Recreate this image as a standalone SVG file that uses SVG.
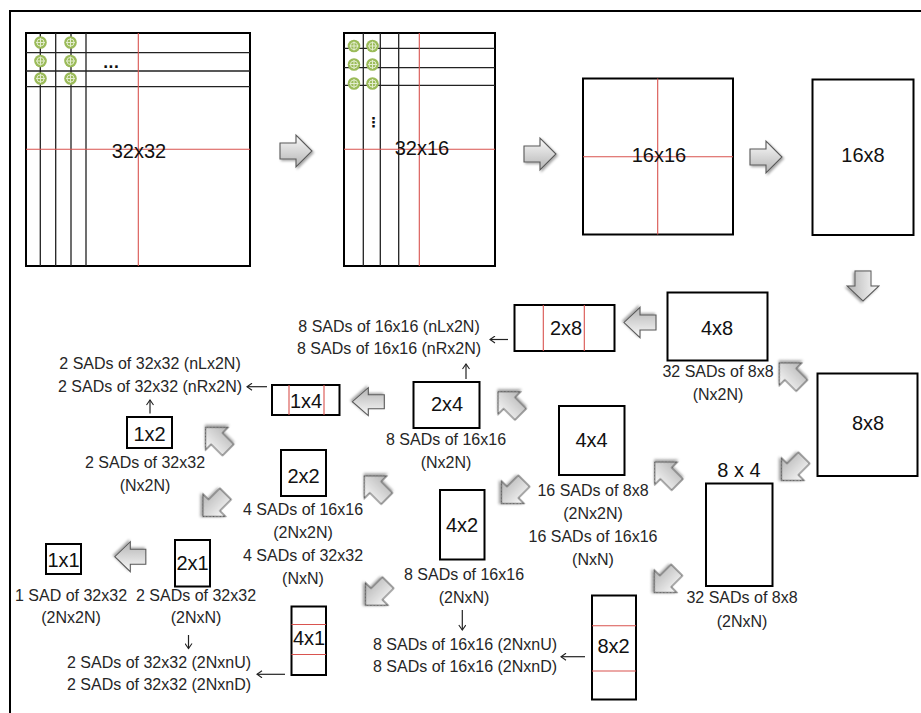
<svg xmlns="http://www.w3.org/2000/svg" xmlns:xlink="http://www.w3.org/1999/xlink" width="921" height="713" viewBox="0 0 921 713">
<style>
.box{fill:#fff;stroke:#000;stroke-width:2}
.grid{stroke:#222;stroke-width:1.3;fill:none}
.red{stroke:#d9534f;stroke-width:1.1;fill:none}
.lbl{font-family:"Liberation Sans",Arial,sans-serif;font-size:20px;fill:#111;text-anchor:middle}
.sad{font-family:"Liberation Sans",Arial,sans-serif;font-size:16px;fill:#262626;text-anchor:middle}
.dots{font-family:"DejaVu Sans","Liberation Sans",sans-serif;font-size:14px;font-weight:bold;fill:#111}
.ba{fill:url(#ag);stroke:#5a5a5a;stroke-width:1.1;filter:url(#sh)}
.thin{stroke:#222;stroke-width:1.2;fill:none;marker-end:url(#ah)}
.gc{fill:#9bbb59}
.gx{stroke:#e3edcf;stroke-width:1;fill:none}
</style>
<defs>
<linearGradient id="ag" x1="0" y1="0" x2="0" y2="1">
<stop offset="0" stop-color="#fafafa"/>
<stop offset="1" stop-color="#b4b4b4"/>
</linearGradient>
<filter id="sh" x="-30%" y="-30%" width="160%" height="160%">
<feDropShadow dx="1.5" dy="1.5" stdDeviation="1" flood-color="#000" flood-opacity="0.35"/>
</filter>
<path id="barrow" d="M-16,-8 H0 V-16 L16,0 L0,16 V8 H-16 Z"/>
<marker id="ah" markerWidth="8" markerHeight="8" refX="6" refY="4" orient="auto" markerUnits="userSpaceOnUse">
<path d="M1,0.5 L6,4 L1,7.5" fill="none" stroke="#222" stroke-width="1.1"/>
</marker>
<g id="gcirc">
<circle r="6.3" class="gc"/>
<circle r="3.6" class="gx"/>
<path d="M-4.5,0 H4.5 M0,-4.5 V4.5" class="gx"/>
</g>
</defs>

<rect x="10" y="11" width="930" height="720" fill="none" stroke="#000" stroke-width="2"/>

<g id="n32x32">
<rect x="26" y="33" width="224" height="233" class="box"/>
<path class="grid" d="M26,52.7 H250 M26,71 H250 M26,86.7 H250 M40.3,33 V266 M55.7,33 V266 M71,33 V266 M86,33 V266"/>
<path class="red" d="M138.3,33 V266 M26,149.3 H250"/>
<use xlink:href="#gcirc" x="40.5" y="42.5"/>
<use xlink:href="#gcirc" x="70.5" y="42.5"/>
<use xlink:href="#gcirc" x="40.5" y="61"/>
<use xlink:href="#gcirc" x="70.5" y="61"/>
<use xlink:href="#gcirc" x="40.5" y="78.5"/>
<use xlink:href="#gcirc" x="70.5" y="78.5"/>
<text class="dots" x="103" y="68">...</text>
<text class="lbl" x="139" y="158">32x32</text>
</g>

<g id="n32x16">
<rect x="344" y="33" width="151" height="233" class="box"/>
<path class="grid" d="M344,48.3 H495 M344,67.7 H495 M344,85.3 H495 M363.3,33 V266 M380.3,33 V266 M398.7,33 V266"/>
<path class="red" d="M419.3,33 V266 M344,149.3 H495"/>
<use xlink:href="#gcirc" x="354" y="46"/>
<use xlink:href="#gcirc" x="372.5" y="46"/>
<use xlink:href="#gcirc" x="354" y="64.5"/>
<use xlink:href="#gcirc" x="372.5" y="64.5"/>
<use xlink:href="#gcirc" x="354" y="83.5"/>
<use xlink:href="#gcirc" x="372.5" y="83.5"/>
<text class="dots" x="373.5" y="127" text-anchor="middle">⋮</text>
<text class="lbl" x="422" y="155">32x16</text>
</g>

<g id="n16x16">
<rect x="583" y="78.5" width="150" height="156" class="box"/>
<path class="red" d="M657.7,78.5 V234.5 M583,156.7 H733"/>
<text class="lbl" x="659" y="162">16x16</text>
</g>

<g id="n16x8">
<rect x="812.5" y="79.5" width="101" height="155.5" class="box"/>
<text class="lbl" x="863" y="162">16x8</text>
</g>

<g id="n4x8">
<rect x="667.5" y="292.5" width="100" height="68" class="box"/>
<text class="lbl" x="717" y="335">4x8</text>
<text class="sad" x="718" y="377">32 SADs of 8x8</text>
<text class="sad" x="718" y="400">(Nx2N)</text>
</g>

<g id="n8x8">
<rect x="817.5" y="373.5" width="100" height="102.5" class="box"/>
<text class="lbl" x="868" y="430">8x8</text>
</g>

<g id="n8x4">
<text class="lbl" x="739" y="477">8 x 4</text>
<rect x="706" y="483.5" width="66.5" height="102.5" class="box"/>
<text class="sad" x="742" y="603">32 SADs of 8x8</text>
<text class="sad" x="742" y="626.5">(2NxN)</text>
</g>

<g id="n2x8">
<rect x="514.5" y="305" width="100" height="46" class="box"/>
<path class="red" d="M543.3,305 V351 M584.3,305 V351"/>
<text class="lbl" x="566" y="335">2x8</text>
<text class="sad" x="389" y="331.5">8 SADs of 16x16 (nLx2N)</text>
<text class="sad" x="389" y="354">8 SADs of 16x16 (nRx2N)</text>
</g>

<g id="n4x4">
<rect x="559" y="406" width="65.5" height="69" class="box"/>
<text class="lbl" x="591.5" y="447">4x4</text>
<text class="sad" x="593" y="495.5">16 SADs of 8x8</text>
<text class="sad" x="593" y="519">(2Nx2N)</text>
<text class="sad" x="593" y="542">16 SADs of 16x16</text>
<text class="sad" x="593" y="565">(NxN)</text>
</g>

<g id="n2x4">
<rect x="413.5" y="382" width="66" height="46" class="box"/>
<text class="lbl" x="447" y="411">2x4</text>
<text class="sad" x="446" y="445">8 SADs of 16x16</text>
<text class="sad" x="446" y="467.5">(Nx2N)</text>
</g>

<g id="n1x4">
<rect x="272" y="385" width="67.5" height="30" class="box"/>
<path class="red" d="M289,385 V415 M324,385 V415"/>
<text class="lbl" x="306" y="408">1x4</text>
<text class="sad" x="150" y="369">2 SADs of 32x32 (nLx2N)</text>
<text class="sad" x="150" y="391.5">2 SADs of 32x32 (nRx2N)</text>
</g>

<g id="n1x2">
<rect x="127" y="417" width="45" height="31" class="box"/>
<text class="lbl" x="149.5" y="441">1x2</text>
<text class="sad" x="145" y="467.5">2 SADs of 32x32</text>
<text class="sad" x="145" y="490.5">(Nx2N)</text>
</g>

<g id="n2x2">
<rect x="281" y="450" width="45" height="46" class="box"/>
<text class="lbl" x="303.5" y="483">2x2</text>
<text class="sad" x="303" y="515">4 SADs of 16x16</text>
<text class="sad" x="303" y="537.5">(2Nx2N)</text>
<text class="sad" x="303" y="561">4 SADs of 32x32</text>
<text class="sad" x="303" y="583.5">(NxN)</text>
</g>

<g id="n4x2">
<rect x="440" y="490" width="44.5" height="69.5" class="box"/>
<text class="lbl" x="462" y="532">4x2</text>
<text class="sad" x="464" y="580">8 SADs of 16x16</text>
<text class="sad" x="464" y="603">(2NxN)</text>
</g>

<g id="n8x2">
<rect x="592" y="595.5" width="44" height="104" class="box"/>
<path class="red" d="M592,625.7 H636 M592,671 H636"/>
<text class="lbl" x="613.5" y="653">8x2</text>
<text class="sad" x="465" y="650">8 SADs of 16x16 (2NxnU)</text>
<text class="sad" x="465" y="672">8 SADs of 16x16 (2NxnD)</text>
</g>

<g id="n4x1">
<rect x="291.5" y="606.5" width="34.5" height="68.5" class="box"/>
<path class="red" d="M291.5,624.5 H326 M291.5,654.5 H326"/>
<text class="lbl" x="309" y="645">4x1</text>
<text class="sad" x="159" y="668">2 SADs of 32x32 (2NxnU)</text>
<text class="sad" x="159" y="690">2 SADs of 32x32 (2NxnD)</text>
</g>

<g id="n2x1">
<rect x="175" y="540" width="35" height="46.5" class="box"/>
<text class="lbl" x="192.5" y="569.5">2x1</text>
<text class="sad" x="196" y="601">2 SADs of 32x32</text>
<text class="sad" x="196" y="623">(2NxN)</text>
</g>

<g id="n1x1">
<rect x="46" y="544" width="35" height="30" class="box"/>
<text class="lbl" x="63.5" y="567">1x1</text>
<text class="sad" x="71" y="601">1 SAD of 32x32</text>
<text class="sad" x="71" y="623">(2Nx2N)</text>
</g>

<g id="connectors">
<use xlink:href="#barrow" class="ba" transform="translate(296,151)"/>
<use xlink:href="#barrow" class="ba" transform="translate(540,154)"/>
<use xlink:href="#barrow" class="ba" transform="translate(766,157)"/>
<use xlink:href="#barrow" class="ba" transform="translate(863,286) rotate(90) scale(0.94,1)"/>
<use xlink:href="#barrow" class="ba" transform="translate(640,322.5) rotate(180) scale(1,0.95)"/>
<use xlink:href="#barrow" class="ba" transform="translate(368.3,401.7) rotate(180) scale(1,0.87)"/>
<use xlink:href="#barrow" class="ba" transform="translate(130.3,556.7) rotate(180) scale(0.97,0.94)"/>
<use xlink:href="#barrow" class="ba" transform="translate(790.5,374.2) rotate(225)"/>
<use xlink:href="#barrow" class="ba" transform="translate(666,473.3) rotate(225)"/>
<use xlink:href="#barrow" class="ba" transform="translate(509.3,403) rotate(225)"/>
<use xlink:href="#barrow" class="ba" transform="translate(375.5,487.2) rotate(225)"/>
<use xlink:href="#barrow" class="ba" transform="translate(216.8,438.6) rotate(225)"/>
<use xlink:href="#barrow" class="ba" transform="translate(792.7,469.2) rotate(135)"/>
<use xlink:href="#barrow" class="ba" transform="translate(665.5,581.3) rotate(135)"/>
<use xlink:href="#barrow" class="ba" transform="translate(512.7,492.3) rotate(135)"/>
<use xlink:href="#barrow" class="ba" transform="translate(376.7,594) rotate(135)"/>
<use xlink:href="#barrow" class="ba" transform="translate(214.2,505.2) rotate(135)"/>
<path class="thin" d="M508,339.5 H490"/>
<path class="thin" d="M466,379 V364"/>
<path class="thin" d="M267,386.7 H247"/>
<path class="thin" d="M150,413.5 V400"/>
<path class="thin" d="M188.5,635 V648.5"/>
<path class="thin" d="M285,674.3 H257"/>
<path class="thin" d="M462.3,610 V630"/>
<path class="thin" d="M585,656.7 H561"/>
</g>
</svg>
